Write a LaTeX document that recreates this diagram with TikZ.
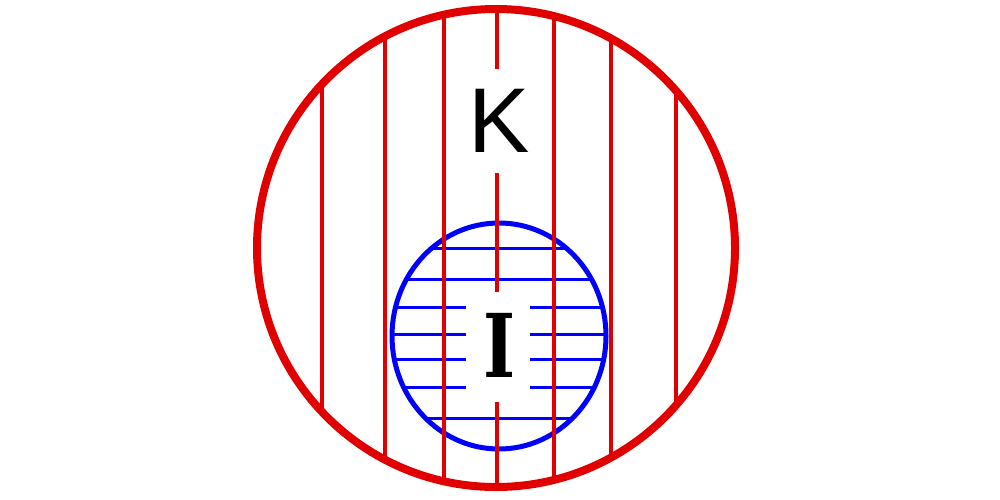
\documentclass[tikz,border=0pt]{standalone}
\usepackage{fontspec}
\setmainfont{Liberation Sans}
\newfontfamily\serifbold{DejaVu Serif}[FakeStretch=0.78]
\definecolor{kred}{RGB}{224,0,0}
\definecolor{iblue}{RGB}{0,0,255}
\begin{document}
\begin{tikzpicture}[x=1pt,y=-1pt,
  redline/.style={draw=kred,line width=4pt},
  blueline/.style={draw=iblue,line width=3pt},
  bigcircle/.style={draw=kred,line width=8pt},
  smallcircle/.style={draw=iblue,line width=5pt},
  letter/.style={inner sep=0pt,text=black}]
\useasboundingbox (0,0) rectangle (1000,500);
% labels
\node[letter,minimum width=60pt,minimum height=104pt,font=\fontsize{92}{92}\selectfont] (K) at (499,121) {K};
\node[letter,minimum width=64pt,minimum height=110pt,font=\serifbold\bfseries\fontsize{88}{88}\selectfont] (I) at (499.5,345) {I};
% blue hatching inside the small circle
\begin{scope}
  \clip (499,336) ellipse [x radius=107, y radius=113];
  \foreach \y in {248.3,279.3,418.3}
    \draw[blueline] (380,\y) -- (620,\y);
  \foreach \y in {307.3,334.3,359.3,387.7}{
    \draw[blueline] (380,\y) -- (466,\y);
    \draw[blueline] (530,\y) -- (620,\y);
  }
\end{scope}
\draw[smallcircle] (499,336) ellipse [x radius=107, y radius=113];
% red hatching inside the big circle
\begin{scope}
  \clip (496,248) circle [radius=239];
  \foreach \x in {321.7,385,444,554,610.7,676}
    \draw[redline] (\x,0) -- (\x,500);
  \coordinate (ctop) at (496.7,0);
  \coordinate (cbot) at (496.7,500);
  \coordinate (igaptop) at (496.7,292);
  \coordinate (igapbot) at (496.7,402);
  \draw[redline] (ctop) -- (ctop |- K.north);
  \draw[redline] (ctop |- K.south) -- (igaptop);
  \draw[redline] (igapbot) -- (cbot);
\end{scope}
\draw[bigcircle] (496,248) circle [radius=239];
\end{tikzpicture}
\end{document}
